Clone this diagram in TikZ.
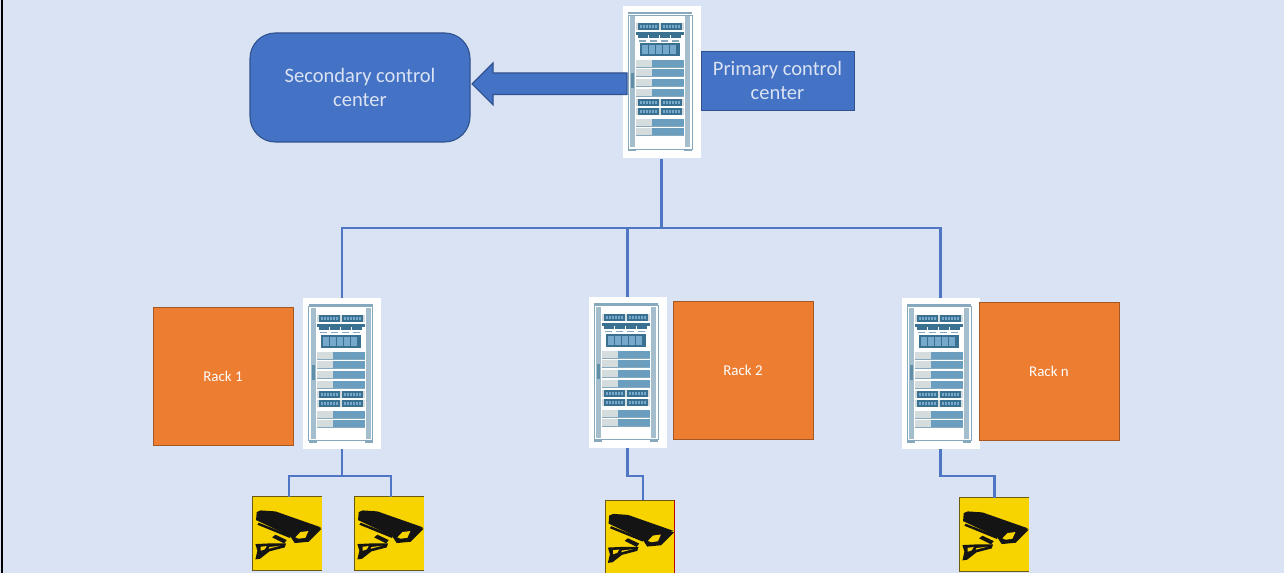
\documentclass[tikz,border=0pt]{standalone}
\usepackage{fontspec}
\setmainfont{Carlito}
\usetikzlibrary{calc}
\definecolor{bgblue}{HTML}{DAE3F3}
\definecolor{mainblue}{HTML}{4472C4}
\definecolor{edgeblue}{HTML}{2F528F}
\definecolor{lineblue}{HTML}{4F76C4}
\definecolor{rackorange}{HTML}{ED7D31}
\definecolor{rackframe}{HTML}{86A9BE}
\definecolor{rackdark}{HTML}{3A7191}
\definecolor{rackmid}{HTML}{76A9CB}
\definecolor{racklight}{HTML}{D5DCDD}
\definecolor{camyellow}{HTML}{F7D400}
\definecolor{camedge}{HTML}{6B5A12}
\def\pxu{0.75pt}
\tikzset{
  x=\pxu, y=-\pxu,
  whitebox/.style={fill=white, draw=none, inner sep=0pt, minimum width=78*\pxu, minimum height=151*\pxu},
  camsquare/.style={fill=camyellow, draw=none, inner sep=0pt, minimum width=69*\pxu, minimum height=73*\pxu},
  camline/.style={draw=camedge, line width=0.9pt},
  orangebox/.style={fill=rackorange, draw=rackorange!70!black, line width=0.4pt, inner sep=0pt, minimum width=140*\pxu, minimum height=138*\pxu, text=white, font=\fontsize{11.2pt}{13pt}\selectfont},
  bluetext/.style={text=bgblue, align=center, font=\fontsize{15.4pt}{18pt}\selectfont},
  conn/.style={draw=lineblue, line width=1.6pt},
  rackpic/.pic={
    \draw[rackframe, line width=1pt, fill=white] (6,9) rectangle (70,143);
    \draw[rackframe, line width=1.4pt] (6,7) -- (70,7);
    \fill[rackframe!75!white] (8,10) rectangle (13,141);
    \fill[rackframe!75!white] (63,10) rectangle (68,141);
    \fill[rackframe] (6,143) rectangle (14,145);
    \fill[rackframe] (62,143) rectangle (70,145);
    \fill[rackdark!80!white] (9,67) rectangle (12,82);
    \foreach \yy in {17,93,102}{
      \fill[racklight] (14,\yy) rectangle (62,\yy+7);
      \fill[rackdark] (16,\yy) rectangle (37,\yy+7);
      \fill[rackdark] (39,\yy) rectangle (60,\yy+7);
      \foreach \xx in {18,21,...,33,41,44,...,56}{
        \fill[rackmid] (\xx,\yy+2) rectangle (\xx+2,\yy+5);
      }
    }
    \fill[rackdark] (14,26) rectangle (62,29);
    \foreach \xx in {16,27,38,49}{
      \fill[rackdark] (\xx,29) rectangle (\xx+10,32);
      \fill[rackframe] (\xx+1,34) rectangle (\xx+8,35.5);
    }
    \fill[rackdark] (18,37) rectangle (58,50);
    \foreach \xx in {20,27,34,41,48}{
      \fill[rackmid] (\xx,39) rectangle (\xx+6,48);
    }
    \foreach \yy in {54,63,73,83,113,122}{
      \fill[racklight] (14,\yy) rectangle (30,\yy+7);
      \fill[rackmid!80!rackdark] (30,\yy) rectangle (62,\yy+7);
      \fill[rackframe] (14,\yy+7) rectangle (62,\yy+8);
      \foreach \xx in {40,47,54}{
        \fill[rackdark!70!white] (\xx,\yy) rectangle (\xx+1,\yy+7);
      }
    }
  },
  campic/.pic={
    \begin{scope}[scale=1/3]
      \fill[black!92] (12,46) -- (24,41) -- (68,44) -- (205,92) -- (170,100) -- (112,118) -- (10,70) -- cycle;
      \fill[black!92] (110,115) -- (135,93) -- (175,88) -- (207,96) -- (168,135) -- (126,139) -- cycle;
      \fill[camyellow] (128,122) -- (143,106) -- (167,103) -- (158,123) -- (138,126) -- cycle;
      \fill[black!92] (14,84) -- (18,78) -- (114,116) -- (112,124) -- cycle;
      \fill[black!92] (58,122) -- (68,114) -- (102,130) -- (94,140) -- cycle;
      \fill[black!92] (8,142) -- (50,140) -- (100,140) -- (96,152) -- (50,164) -- (22,186) -- (8,188) -- (14,162) -- cycle;
      \fill[camyellow] (24,150) -- (42,148) -- (36,158) -- (24,162) -- cycle;
      \fill[camyellow] (50,151) -- (82,147) -- (48,156) -- cycle;
    \end{scope}
  }
}
\begin{document}
\begin{tikzpicture}
\useasboundingbox (0,0) rectangle (1284,573);
\fill[bgblue] (0,0) rectangle (1284,573);
\fill[black] (1,0) rectangle (3,573);

% server racks
\node[whitebox, minimum height=152*\pxu] (srv0) at (661.5,82.5) {};
\node[whitebox] (srv1) at (342,373.5) {};
\node[whitebox] (srv2) at (627.5,372.5) {};
\node[whitebox] (srv3) at (940.5,373.5) {};
\pic at (srv0.north west) {rackpic};
\pic at (srv1.north west) {rackpic};
\pic at (srv2.north west) {rackpic};
\pic at (srv3.north west) {rackpic};

% control centres
\node[fill=mainblue, draw=edgeblue, line width=0.8pt, rounded corners=19pt, inner sep=0pt,
      minimum width=220*\pxu, minimum height=109*\pxu, bluetext] (sec) at (360,87.5) {Secondary control\\center};
\node[fill=mainblue, draw=edgeblue, line width=0.6pt, inner sep=0pt,
      minimum width=153*\pxu, minimum height=59*\pxu, bluetext] (pri) at (777.5,80.5) {Primary control\\center};

% block arrow from primary rack to secondary centre
\draw[fill=mainblue, draw=edgeblue, line width=0.8pt]
  (627,73) -- (493,73) -- (493,63) -- (472,84) -- (493,105) -- (493,94.5) -- (627,94.5) -- cycle;

% rack labels
\node[orangebox] (r1) at (223,376) {Rack 1};
\node[orangebox] (r2) at (743,370) {Rack 2};
\node[orangebox] (r3) at (1049,371) {Rack n};

% cameras
\node[camsquare] (cam1) at (287.5,533.5) {};
\node[camsquare] (cam2) at (389.5,533.5) {};
\node[camsquare] (cam3) at (640,537) {};
\node[camsquare] (cam4) at (994.5,534.5) {};
\foreach \c in {cam1,cam2,cam3,cam4}{
  \draw[camline] (\c.north east) -- (\c.north west) -- (\c.south west) -- (\c.south east);
  \pic at (\c.north west) {campic};
}
\draw[red!75!black, line width=0.9pt] (cam3.north east) -- (cam3.south east);

% connectors
\coordinate (bus) at (661.5,228);
\coordinate (j1) at (342,476);
\coordinate (j2) at (627.5,476);
\coordinate (j3) at (940.5,476);
\draw[conn] (srv0.south) -- (bus);
\draw[conn] (srv1.north) |- (bus);
\draw[conn] (srv3.north) |- (bus);
\draw[conn] (srv2.north) -- (srv2.north |- bus);
\draw[conn] (srv1.south) -- (j1);
\draw[conn] ($(cam1.north)+(1.5,0)$) |- (j1);
\draw[conn] ($(cam2.north)+(1.5,0)$) |- (j1);
\draw[conn] (srv2.south) -- (j2) -| ($(cam3.north)+(3,0)$);
\draw[conn] (srv3.south) -- (j3) -| (cam4.north);
\end{tikzpicture}
\end{document}
